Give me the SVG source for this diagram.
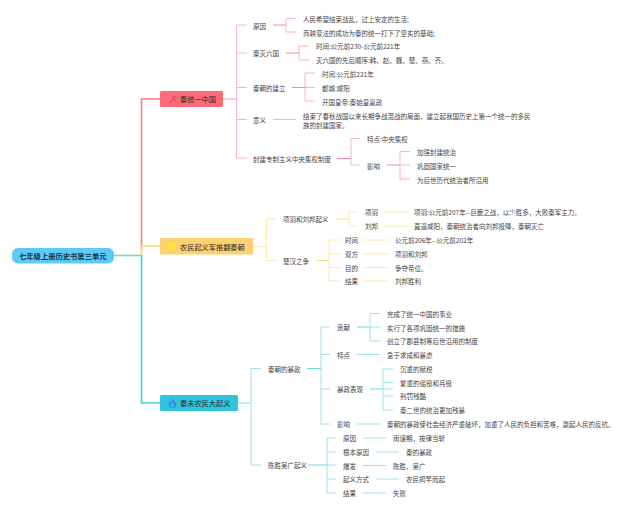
<svg xmlns="http://www.w3.org/2000/svg" width="640" height="511" viewBox="0 0 640 511">
<style>
text{font-family:"Noto Sans CJK SC","Liberation Sans",sans-serif;dominant-baseline:central}
.t{font-size:6.5px;fill:#444}
.h{font-size:7.2px;fill:#2b2b2b}
.r{font-size:7.3px;fill:#12364a;font-weight:700}
path{fill:none}
.red{stroke:#fbb4c2;stroke-width:1}
.yel{stroke:#fde9b4;stroke-width:1}
.cya{stroke:#9ce2ea;stroke-width:1}
.trunk{stroke-width:1.600}
.reds{stroke:#f58ba0;stroke-width:1}
.yels{stroke:#fbd98a;stroke-width:1}
.cyas{stroke:#6fd6e4;stroke-width:1}
</style>
<rect width="640" height="511" fill="#fff"/>
<g id="connectors">
<path class="trunk" d="M114 255.500H141.500" stroke="#7fd8a8"/>
<path class="trunk" d="M160 99H141.500V250" stroke="#ff7a86"/>
<path class="trunk" d="M160 246H141.500V256" stroke="#ffd27a"/>
<path class="trunk" d="M160 403H141.500V255" stroke="#3fcfe0"/>
<path class="red" style="stroke-width:1.300" d="M223 99H236.500"/>
<path class="red" d="M247 25H236.500V158H247M236.500 53H247M236.500 87.500H247M236.500 119.500H247"/>
<path class="red" d="M296 18.500H286V32H296M309 46H299V60H309M315 73H305V101H315M305 87.500H315M273 119.500H296"/>
<path class="reds" d="M273 25H286M286 53H299M292 87.500H305"/>
<path class="red" d="M360 138.500H351V165H360M410 151.500H400V179H410M400 165H410"/>
<path class="reds" d="M337 158.500H351M387 165H400"/>
<path class="yel" style="stroke-width:1.300" d="M253 246.500H266.500"/>
<path class="yel" d="M276 219H266.500V260.500H276M356 212H349V226H356M384 212H408M384 226H408"/>
<path class="yels" d="M336 219H349M316 260.500H329"/>
<path class="yel" d="M340 240H329V281H340M329 254H340M329 267.500H340M364 240H388M364 254H388M364 267.500H388M364 281H388"/>
<path class="cya" style="stroke-width:1.300" d="M238 403H251"/>
<path class="cya" d="M261 368.500H251V465H261M330 327H321V424H330M321 354.500H330M321 389H330"/>
<path class="cyas" d="M307 368.500H321M357 327H370M370 389H383M308 465H327"/>
<path class="cya" d="M370 327H380M380 313.500H370V341H380M357 354.500H380M383 389H393M393 369H383V410H393M383 382.500H393M383 396H393M357 424H380"/>
<path class="cya" d="M327 465H336M336 438H327V493H336M327 452H336M327 479H336M363 438H386M376 452H399M363 465.500H386M376 479H399M363 493H386"/>
</g>
<g id="root"><rect x="12" y="248" width="102" height="15.500" rx="6" fill="#5ccaf5"/><text class="r" x="19" y="256">七年级上册历史书第三单元</text></g>
<g id="topic-1"><rect x="160" y="91" width="63" height="16" rx="1.500" fill="#ff6b78"/><path d="M169.500 103L175.500 96M172 96.500L176.500 102" stroke="#c9303c" stroke-width=".9"/><text class="h" x="180" y="99.300">秦统一中国</text></g>
<g id="topic-2"><rect x="160" y="238" width="93" height="16.500" rx="1.500" fill="#ffd070"/><circle cx="172" cy="246" r="4" fill="#ffe838"/><text class="h" x="180" y="246.500">农民起义军推翻秦朝</text></g>
<g id="topic-3"><rect x="160" y="395" width="78" height="16" rx="1.500" fill="#2fc6dd"/><path d="M172.500 396.500C173 400 176.500 401.500 176.500 404.500C176.500 407 174.500 408.500 172.500 408.500C170.500 408.500 168.500 407 168.500 404.500C168.500 402.500 170 401.500 170.500 399.800C171 401 171.500 401.800 172 401.300C172.800 400 172.800 398 172.500 396.500ZM172.500 407.500C171.500 407.500 171 406.500 171 405.500C171 404.500 172.300 403.800 172.500 402.500C173 403.800 174 404.500 174 405.500C174 406.500 173.500 407.500 172.500 407.500Z" style="fill:#3a8ee8;fill-rule:evenodd"/><text class="h" x="180" y="403.300">秦末农民大起义</text></g>
<g id="n-yuanyin"><text class="t" x="253" y="26">原因</text></g>
<g id="n-yy1"><text class="t" x="303" y="19">人民希望结束战乱，过上安定的生活;</text></g>
<g id="n-yy2"><text class="t" x="303" y="32.500">商鞅变法的成功为秦的统一打下了坚实的基础;</text></g>
<g id="n-miemie"><text class="t" x="253" y="53">秦灭六国</text></g>
<g id="n-mm1"><text class="t" x="316" y="46">时间:公元前230-公元前221年</text></g>
<g id="n-mm2"><text class="t" x="316" y="60">灭六国的先后顺序:韩、赵、魏、楚、燕、齐。</text></g>
<g id="n-jianli"><text class="t" x="253" y="87.500">秦朝的建立</text></g>
<g id="n-jl1"><text class="t" x="322" y="74">时间:公元前221年</text></g>
<g id="n-jl2"><text class="t" x="322" y="88">都城:咸阳</text></g>
<g id="n-jl3"><text class="t" x="322" y="102">开国皇帝:秦始皇嬴政</text></g>
<g id="n-yiyi"><text class="t" x="253" y="120">意义</text></g>
<g id="n-yy"><text class="t" x="303" y="116">结束了春秋战国以来长期争战混战的局面，建立起我国历史上第一个统一的多民</text><text class="t" x="303" y="125">族的封建国家。</text></g>
<g id="n-zhidu"><text class="t" x="253" y="159">封建专制主义中央集权制度</text></g>
<g id="n-td"><text class="t" x="367" y="138.500">特点:中央集权</text></g>
<g id="n-yx"><text class="t" x="367" y="166">影响</text></g>
<g id="n-yx1"><text class="t" x="417" y="152">加强封建统治</text></g>
<g id="n-yx2"><text class="t" x="417" y="166">巩固国家统一</text></g>
<g id="n-yx3"><text class="t" x="417" y="180">为后世历代统治者所沿用</text></g>
<g id="n-xl"><text class="t" x="283" y="219">项羽和刘邦起义</text></g>
<g id="n-xy"><text class="t" x="365" y="212">项羽</text></g>
<g id="n-xy1"><text class="t" x="414" y="212">项羽:公元前207年--巨鹿之战，以少胜多，大败秦军主力。</text></g>
<g id="n-lb"><text class="t" x="365" y="226">刘邦</text></g>
<g id="n-lb1"><text class="t" x="414" y="226">直逼咸阳，秦朝统治者向刘邦投降，秦朝灭亡</text></g>
<g id="n-ch"><text class="t" x="283" y="260.500">楚汉之争</text></g>
<g id="n-ch1"><text class="t" x="345" y="240">时间</text><text class="t" x="395" y="240">公元前206年--公元前202年</text></g>
<g id="n-ch2"><text class="t" x="345" y="254">双方</text><text class="t" x="395" y="254">项羽和刘邦</text></g>
<g id="n-ch3"><text class="t" x="345" y="267.500">目的</text><text class="t" x="395" y="267.500">争夺帝位。</text></g>
<g id="n-ch4"><text class="t" x="345" y="281">结果</text><text class="t" x="395" y="281">刘邦胜利</text></g>
<g id="n-bz"><text class="t" x="268" y="368.500">秦朝的暴政</text></g>
<g id="n-gx"><text class="t" x="337" y="327">贡献</text></g>
<g id="n-gx1"><text class="t" x="387" y="314">完成了统一中国的事业</text></g>
<g id="n-gx2"><text class="t" x="387" y="327.500">实行了各项巩固统一的措施</text></g>
<g id="n-gx3"><text class="t" x="387" y="341">创立了郡县制等后世沿用的制度</text></g>
<g id="n-td2"><text class="t" x="337" y="354.500">特点</text><text class="t" x="387" y="354.500">急于求成和暴虐</text></g>
<g id="n-bx"><text class="t" x="337" y="389">暴政表现</text></g>
<g id="n-bx1"><text class="t" x="400" y="369">沉重的赋税</text></g>
<g id="n-bx2"><text class="t" x="400" y="382.500">繁重的徭役和兵役</text></g>
<g id="n-bx3"><text class="t" x="400" y="396">刑罚残酷</text></g>
<g id="n-bx4"><text class="t" x="400" y="410">秦二世的统治更加残暴</text></g>
<g id="n-yx4"><text class="t" x="337" y="424">影响</text><text class="t" x="387" y="424">秦朝的暴政使社会经济严重破坏，加重了人民的负担和苦难，激起人民的反抗。</text></g>
<g id="n-cs"><text class="t" x="268" y="465">陈胜吴广起义</text></g>
<g id="n-cs1"><text class="t" x="343" y="438">原因</text><text class="t" x="393" y="438">雨误期，按律当斩</text></g>
<g id="n-cs2"><text class="t" x="343" y="452">根本原因</text><text class="t" x="406" y="452">秦的暴政</text></g>
<g id="n-cs3"><text class="t" x="343" y="465.500">爆发</text><text class="t" x="393" y="465.500">陈胜、吴广</text></g>
<g id="n-cs4"><text class="t" x="343" y="479">起义方式</text><text class="t" x="406" y="479">农民揭竿而起</text></g>
<g id="n-cs5"><text class="t" x="343" y="493">结果</text><text class="t" x="393" y="493">失败</text></g>
</svg>
